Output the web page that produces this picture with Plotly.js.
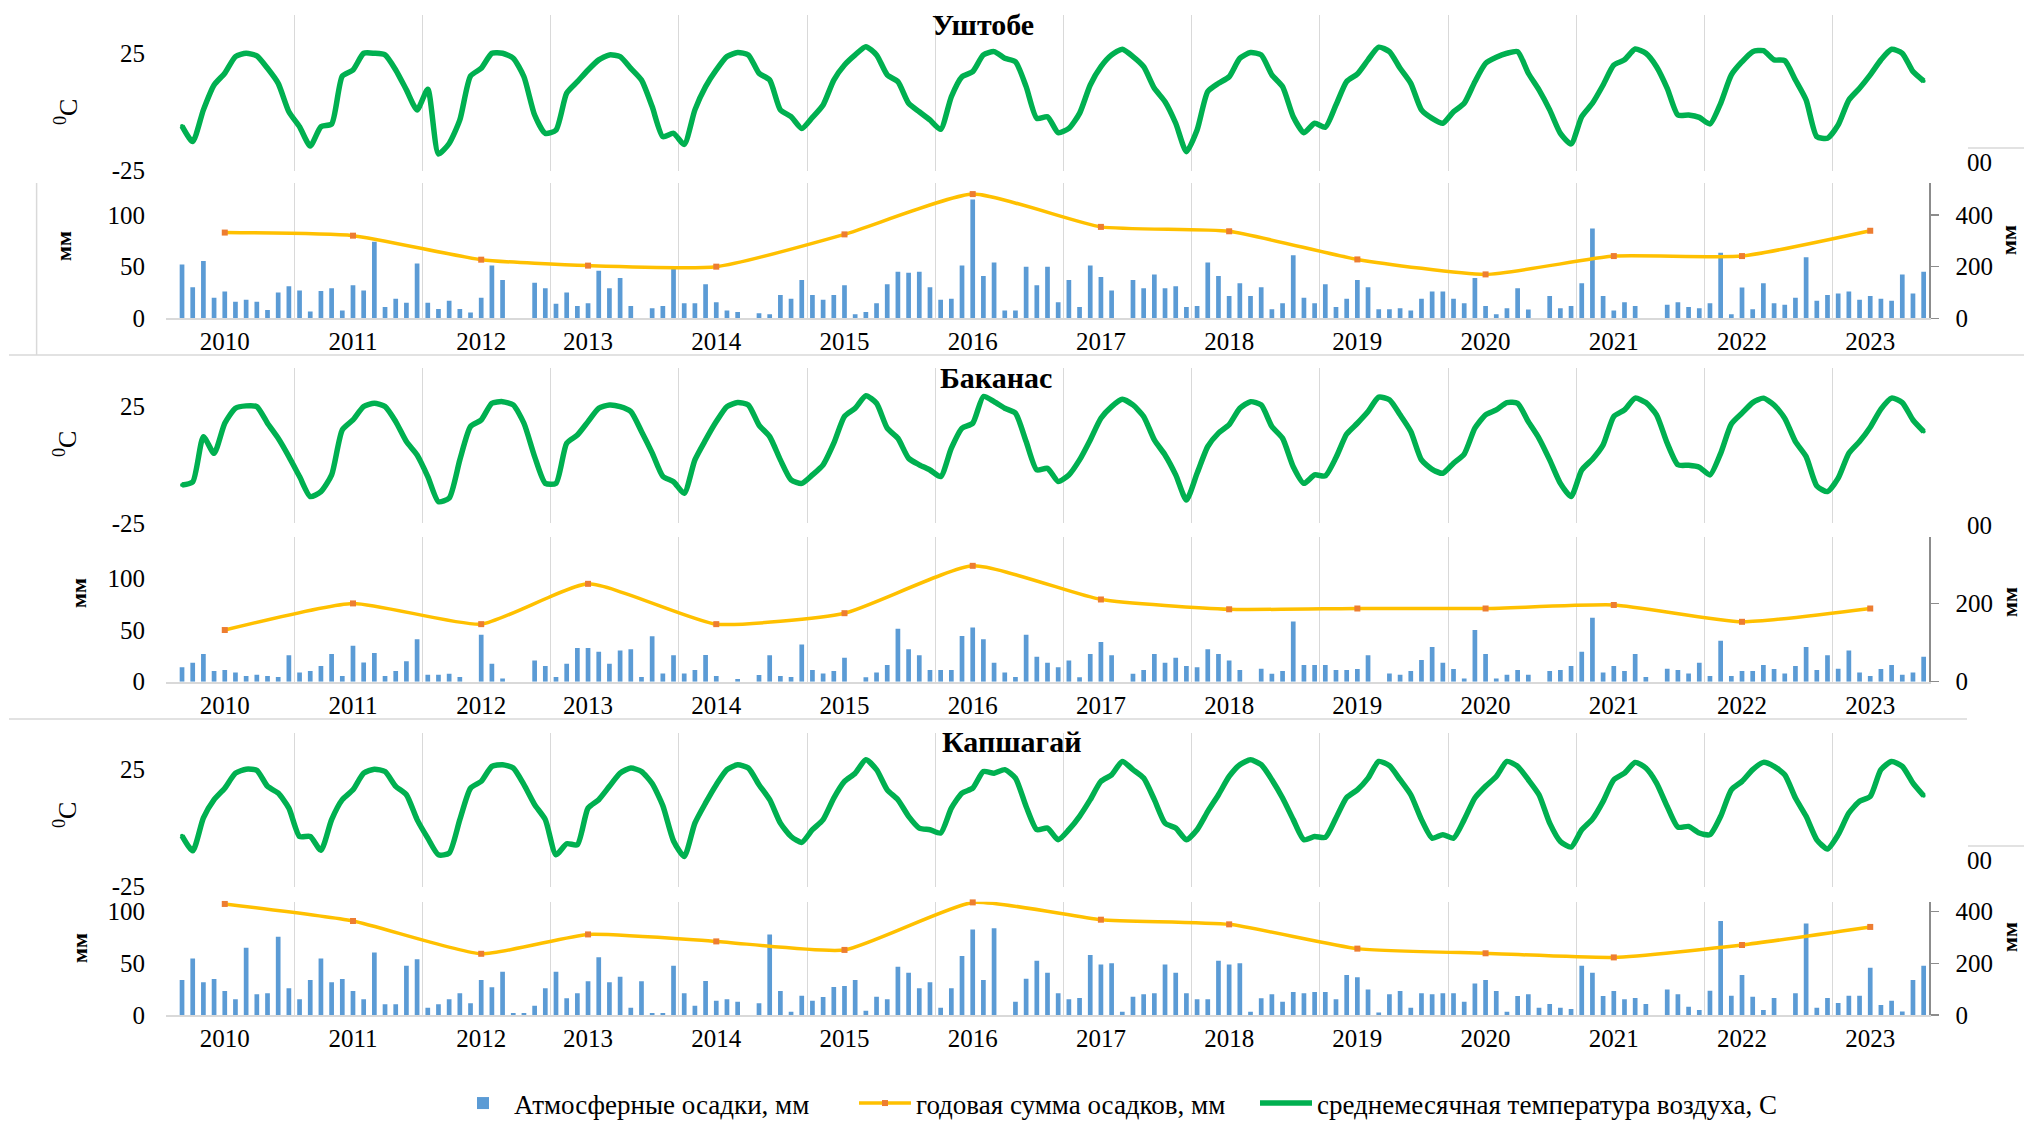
<!DOCTYPE html>
<html><head><meta charset="utf-8">
<script src="https://cdn.plot.ly/plotly-3.0.1.min.js"></script>
<style>html,body{margin:0;padding:0;background:#fff}#c{width:2024px;height:1128px}</style>
</head><body><div id="c"></div>
<script>
// ---- data ----
const years = ['2010','2011','2012','2013','2014','2015','2016','2017','2018','2019','2020','2021','2022','2023'];
const yearPos = [4,16,28,38,50,62,74,86,98,110,122,134,146,158];
const stations = ['Уштобе','Баканас','Капшагай'];
const tempTicks = [-25, 25];
const tempTickText = ['-25', '25'];
const precipTicks = [0, 50, 100];
const sumTicks = [0, 200, 400];
const seriesNames = ['Атмосферные осадки, мм','годовая сумма осадков, мм','среднемесячная температура воздуха, С'];

const precipUsh = [52,30,55.5,20,26,16,18,16,8,25,31,27,
 6.5,26.5,29,7.5,32,27,74,11,19,15,53,15,
 9,17,9,5.5,20,51,37,0,0,34.5,29,14,
 25,12,14.5,46,29,39,12,0,9.7,12,48,14.5,
 14.5,33,15.5,7.5,6,0,5,4,22.6,19,37,22.6,
 18,22.6,32,4,6,14.5,33,45,44,45,30,18,
 19,51,115,41,54,7.5,7.5,50,32,50,15.5,37,
 11,51,40,27,0,37,29,42.5,29,31,11,12,
 54,41,21.6,34,21.6,30,8.7,14.5,61,20,14.5,33,
 11,19,37,30,8.7,8.7,9.7,7.5,19,26,26,19,
 14.5,39,12,4,9.7,29,8.4,0,21.6,9.7,12,34,
 87,21.6,7.5,15.5,12,0,0,13,15.5,11,9.7,14.5,
 63.5,4,29.7,8.7,34,14.5,13,20,59,17,22.6,24,
 26,18,21.6,19,17,42.5,24,45];
const tempUsh = [-6,-12.6,0.9,11.5,16.5,23.6,25,23.9,18.6,12.2,0.1,-6.3,
 -14.5,-6.3,-5.1,15.3,17.9,25,25,24.3,17.9,9.4,0.9,9.7,
 -17.9,-13.4,-3.4,15.3,18.6,25,25,22.9,15,-1.3,-9.1,-7.7,
 8,12.9,17.9,22.2,24.3,23.6,18.6,13.6,2.3,-10.5,-9.1,-13.8,
 0.9,10.8,17.9,23.6,25.3,24.3,16.5,13.6,0.9,-2,-7,-2.3,
 3,13.6,20,24.3,27.8,24.3,15.8,12.9,3.7,0.1,-3.4,-7.4,
 6.5,15,17.2,24.3,25.7,22.9,21.4,10.8,-2.7,-2,-8.8,-7,
 -0.6,11.5,19.3,24.3,26.7,23.6,19.3,10.1,4.4,-4.8,-16.9,-7.7,
 8.7,12.2,15,22.9,25.3,24.3,15.8,10.8,-2,-8.8,-4.8,-6.5,
 3,13,16.2,22.2,27.6,25.7,18.6,12.2,0.9,-2.7,-4.8,0.1,
 3.7,12.9,20.7,23.3,25,25.7,16.5,9.4,0.9,-9.1,-13.6,-2,
 3.7,11.5,20,22.2,26.8,25,19.3,10.1,-1.3,-1.3,-2.3,-5.1,
 3.7,15.8,21.4,25.7,26.1,22.2,21.9,13.6,5.1,-10.5,-11.2,-5.5,
 5.1,10.1,15.8,22.2,26.7,25,17.2,13.2];
const sumUsh = [332,320,227,204,200,325,481,354,337,228,170,241,241,339];

const precipBak = [13.9,18.4,26.8,10.3,11.3,9,5.5,6.8,5.5,4.5,25.5,9,
 10.3,15.2,26.8,5.5,34.8,18.7,27.7,5.5,10.3,19.7,41,6.8,
 6.8,7.7,4.5,0,45.5,17.4,3.2,0,0,20.6,15.2,4.5,
 17.4,32.6,32.6,29,17.4,30.3,31.3,4.5,44,8,25.5,8,
 11.3,25.8,5.5,0,2.6,0,6.5,25.5,5.5,4.5,36,11.3,
 8,10.3,23.2,0,4.2,9,16.1,51.3,31.3,25.5,11.3,11.3,
 11.3,44.2,52.6,41,18.4,9,4.5,45.5,24.2,18.4,13.9,20.6,
 4.2,26.8,38.4,25.5,0,7.7,11.3,26.8,18.4,23.2,15.2,13.9,
 31.3,26.8,20.6,11.3,0,12.6,7.7,10.3,58.4,16.1,16.1,16.1,
 11.3,11.3,12.3,25.5,0,8,6.8,10.3,21,33.5,18.4,12.3,
 3.2,50,26.8,3.2,6.8,11.3,6.8,0,10.3,11.3,15.2,29,
 62,9,15.2,10.3,26.8,4.5,0,12.6,11.3,8,18.4,5.5,
 39.7,5.5,10.3,10.3,16.1,12.3,8,15.2,33.5,11.3,25.5,12.6,
 30.3,9,5.5,12.3,16.1,6.8,9,24.2];
const tempBak = [-8.7,-7.4,11.9,4.8,17.6,24,25,24.7,17.6,11.2,3.4,-5.1,
 -13.6,-11.5,-4.4,14.8,19,24.7,26.1,24.7,18.3,9.8,4.1,-5.1,
 -15.8,-14.3,2,16.2,19,26.1,26.8,25.4,17.6,3.4,-8,-8,
 9.1,12.6,18.3,24,25.4,24.7,22.6,14.1,5,-5,-7.3,-12.2,
 2,10.5,18.3,24.7,26.4,25.4,16.8,11.9,2,-6.5,-8,-4.4,
 -0.1,9.1,20.5,24,29.3,26.1,15.5,11.2,2.7,-0.1,-2.3,-5.1,
 7,15.5,17.6,29,26.8,24,21.9,9.8,-2.3,-1.6,-7.2,-4.4,
 2,10.5,19.7,24.7,27.8,25.4,20.5,10.5,4.1,-4.4,-15.1,-3.7,
 7.7,13.4,17,24,26.8,25.4,16.2,11.2,-0.9,-8,-4.4,-4.8,
 3,13,17.6,22.6,28.7,27.6,21.2,14.1,2,-2,-3.7,0.6,
 4.5,15.5,21.2,23.3,26.4,26.1,18.3,11.2,2,-8,-13.6,-2.3,
 2.3,8.4,20.5,23.3,28.3,26.4,21.2,9.1,-0.1,-0.3,-1.1,-4.4,
 4.8,17.3,21.9,26.4,28.3,25.4,19.7,9.8,3.4,-9.1,-11.5,-5.8,
 4.8,9.8,15.9,23.6,28.3,26.4,19,14.1];
const sumBak = [132,200,147,250,147,175,296,210,185,187,187,196,153,187];

const precipKap = [33.9,54.8,31.6,34.8,23.2,15.2,65.2,20,21,75.8,25.8,15.2,
 33.9,54.8,31.6,34.8,23.2,15.2,60.6,10.3,10.3,47.7,53.9,7.1,
 10.3,15.2,21,11.3,33.9,26.8,41.9,1.9,1.9,9,25.8,41.9,
 16.1,21,32.6,55.8,31.6,37.1,7.1,32.6,1.9,1.9,47.7,21,
 9,32.9,13.9,15.2,12.9,0,11.3,78,23.2,3.2,18.7,13.9,
 17.4,27.1,28.1,33.9,4.2,17.7,15.2,46.8,41,25.8,31.6,7.1,
 25.8,57.1,82.9,33.9,83.9,0,12.9,35.2,52.6,41,21,15.2,
 16.5,58.1,49,50,3.2,17.7,20,21,49,41,21,15.2,
 15.2,52.6,49,50,3.2,16.1,20,12.9,22.3,21,22.3,22.3,
 15.2,38.7,36.5,24.8,2.3,20,23.2,7.1,21,20,21,21,
 12.9,30.6,33.9,23.2,3.2,18.4,20,7.1,10.6,7.1,5.8,47.7,
 41,18.4,23.2,15.2,16.5,10.6,0,24.8,20,8.1,4.8,23.5,
 91,18.7,38.7,17.7,4.8,16.5,0,21,88.7,7.1,16.5,11.6,
 18.7,18.7,45.8,9.7,13.9,3.5,33.9,47.7];
const tempKap = [-3.3,-9.7,4.3,12.1,17,23.4,25.1,24.6,17.8,14.9,8.5,-3.6,
 -3.6,-9.5,3.6,12.1,16.3,23.4,25.1,24.1,17.8,14.2,3.6,-4.3,
 -11.4,-10.7,3.6,17,19.9,26.3,27,25.6,18.5,10,3.6,-11.4,
 -6.7,-7.1,8.5,12.1,17.8,23.4,25.6,24.1,19,9.5,-5.5,-12.1,
 2.1,10.7,18.5,24.9,27,25.6,18.5,12.1,2.1,-3.6,-6.1,-0.7,
 3.6,12.8,19.9,23.4,29.1,24.9,16.3,12.1,5,0,-0.7,-2.1,
 8.5,14.9,17,24.1,23.4,24.9,21.3,9.2,-0.7,0,-5,-0.7,
 5,12.1,19.9,22.7,28.4,24.9,21.3,12.1,2.1,0,-5,-0.7,
 7.1,14.2,22,27,29.1,27,20.6,12.8,3.6,-5,-3.6,-4,
 4.3,13,16.3,21.3,28.4,26.6,20.6,14.2,3.6,-4.3,-2.8,-4.3,
 3.6,12.8,17.8,22,28.4,26.3,20.6,14.2,2.1,-5.7,-8.1,-0.7,
 3.8,11.4,20.6,23.4,28,25.6,19.2,9.2,0.4,0.7,-2.1,-2.8,
 5,16.3,19.9,24.9,28,26.3,22.7,12.8,5,-5,-8.9,-2.8,
 6.4,11.4,13.5,24.9,28.4,26.3,19.2,13.8];
const sumKap = [430,364,237,312,285,252,436,369,351,257,239,223,271,341];

const precipAll = [precipUsh, precipBak, precipKap];
const tempAll = [tempUsh, tempBak, tempKap];
const sumAll = [sumUsh, sumBak, sumKap];
const monthIdx = precipUsh.map((_, i) => i);

// ---- layout geometry (paper fractions) ----
const W = 2024, H = 1128;
const py = v => 1 - v / H, px = v => v / W;
const FONT = 'Liberation Serif';
const xDom = [px(166), px(1929)];
const panels = [
  {tDom:[py(170.7), py(15)],  tTop:41.3, pDom:[py(318.3), py(183.3)], pTop:130.7, sTop:522.8},
  {tDom:[py(523.3), py(368.3)], tTop:41.0, pDom:[py(681.7), py(536.7)], pTop:140.4, sTop:370.4},
  {tDom:[py(886.7), py(733.3)], tTop:40.4, pDom:[py(1015), py(901.7)], pTop:109.7, sTop:438.7}
];

const legFont = {family:FONT, size:27, color:'#000'};
const legBase = {orientation:'h', xanchor:'left', yanchor:'bottom', xref:'paper', yref:'paper',
                 y:0, font:legFont, bgcolor:'rgba(0,0,0,0)', itemwidth:52, borderwidth:0};

const traces = [];
const layout = {
  width: W, height: H, margin:{l:0,r:0,t:0,b:0}, autosize:false,
  paper_bgcolor:'#fff', plot_bgcolor:'rgba(0,0,0,0)',
  font:{family:FONT, size:25, color:'#000'},
  showlegend:true,
  legend: Object.assign({}, legBase, {x:px(452)}),
  legend2: Object.assign({}, legBase, {x:px(854)}),
  legend3: Object.assign({}, legBase, {x:px(1255)}),
  annotations:[], shapes:[]
};

const tickFont = {family:FONT, size:25, color:'#000'};

stations.forEach((name, s) => {
  const P = panels[s];
  const xn = s === 0 ? '' : String(s + 1);
  const yL = 3*s + 1, yR = 3*s + 2, yT = 3*s + 3;
  const yn = n => n === 1 ? '' : String(n);
  const xa = 'x' + xn;
  layout['xaxis' + xn] = {
    domain:xDom, range:[-1.5,163.5], anchor:'y' + yn(yL),
    tickmode:'array', tickvals:yearPos, ticktext:years, tickfont:tickFont,
    showgrid:false, zeroline:false, showline:true, linecolor:'#d9d9d9', linewidth:2,
    ticks:'', ticklabelstandoff:0, fixedrange:true,
    minor:{tickmode:'linear', tick0:-1.5, dtick:12, showgrid:true, gridcolor:'#d9d9d9', gridwidth:1, ticks:''}
  };
  layout['yaxis' + yn(yL)] = {
    domain:P.pDom, range:[0,P.pTop], anchor:xa, tickmode:'array', tickvals:precipTicks,
    tickfont:tickFont, showgrid:false, zeroline:false, showline:false, ticks:'',
    ticklabelstandoff:20, fixedrange:true
  };
  layout['yaxis' + yn(yR)] = {
    overlaying:'y' + yn(yL), side:'right', anchor:xa, range:[0,P.sTop],
    tickmode:'array', tickvals:sumTicks, tickfont:tickFont, showgrid:false, zeroline:false,
    showline:true, linecolor:'#8c8c8c', linewidth:1.5, ticks:'outside', ticklen:8,
    tickcolor:'#8c8c8c', tickwidth:1.5, ticklabelstandoff:12, fixedrange:true
  };
  layout['yaxis' + yn(yT)] = {
    domain:P.tDom, range:[-25,P.tTop], anchor:xa, tickmode:'array', tickvals:tempTicks,
    ticktext:tempTickText,
    tickfont:tickFont, showgrid:false, zeroline:false, showline:false, ticks:'',
    ticklabelstandoff:20, fixedrange:true
  };

  traces.push({
    type:'bar', x:monthIdx, y:precipAll[s], xaxis:xa, yaxis:'y' + yn(yL),
    marker:{color:'#5B9BD5', line:{width:0}}, width:0.44,
    name:seriesNames[0], legend:'legend', showlegend:s === 0, hoverinfo:'skip'
  });
  traces.push({
    type:'scatter', mode:'lines+markers', x:yearPos, y:sumAll[s], xaxis:xa, yaxis:'y' + yn(yR),
    line:{color:'#FFC000', width:3.5, shape:'spline', smoothing:0.5},
    marker:{symbol:'square', size:6, color:'#ED7D31'}, cliponaxis:false,
    name:seriesNames[1], legend:'legend2', showlegend:s === 0, hoverinfo:'skip'
  });
  traces.push({
    type:'scatter', mode:'lines+markers', x:monthIdx, y:tempAll[s], xaxis:xa, yaxis:'y' + yn(yT),
    line:{color:'#00B050', width:5.5, shape:'spline', smoothing:0.6},
    marker:{symbol:'circle', size:4, color:'#00B050'}, cliponaxis:false,
    name:seriesNames[2], legend:'legend3', showlegend:s === 0, hoverinfo:'skip'
  });
});

// titles and axis titles
const titlePos = [[983,24],[996,377],[1011,741]];
const degPos = [[66,112],[66,444],[66,815]];
const mmL = [[63,246],[78,593],[79,948]];
const mmR = [[2009,240],[2009,602],[2009,937]];
const zz = [163,525,860];
stations.forEach((name, s) => {
  layout.annotations.push({text:'<b>' + name + '</b>', xref:'paper', yref:'paper',
    x:px(titlePos[s][0]), y:py(titlePos[s][1]), showarrow:false, xanchor:'center', yanchor:'middle',
    font:{family:FONT, size:30, color:'#000'}});
  layout.annotations.push({text:'<sup>0</sup>C', xref:'paper', yref:'paper', textangle:-90,
    x:px(degPos[s][0]), y:py(degPos[s][1]), showarrow:false, xanchor:'center', yanchor:'middle',
    font:{family:FONT, size:26, color:'#000'}});
  layout.annotations.push({text:'<b>мм</b>', xref:'paper', yref:'paper', textangle:-90,
    x:px(mmL[s][0]), y:py(mmL[s][1]), showarrow:false, xanchor:'center', yanchor:'middle',
    font:{family:FONT, size:22, color:'#000'}});
  layout.annotations.push({text:'<b>мм</b>', xref:'paper', yref:'paper', textangle:-90,
    x:px(mmR[s][0]), y:py(mmR[s][1]), showarrow:false, xanchor:'center', yanchor:'middle',
    font:{family:FONT, size:22, color:'#000'}});
  layout.annotations.push({text:'00', xref:'paper', yref:'paper',
    x:px(1965), y:py(zz[s]), showarrow:false, xanchor:'left', yanchor:'middle',
    font:{family:FONT, size:25, color:'#000'}});
});

// chart-area borders of the original composite
const bc = '#d9d9d9';
const seg = (x0,y0,x1,y1) => ({type:'line', xref:'paper', yref:'paper', x0:px(x0), y0:py(y0), x1:px(x1), y1:py(y1), line:{color:bc, width:1.5}});
layout.shapes.push(seg(9,355,2024,355), seg(36.6,183,36.6,355), seg(1968,148,2024,148),
                   seg(9,719,1967,719), seg(1968,846,2024,846));

Plotly.newPlot('c', traces, layout, {displayModeBar:false, staticPlot:true});
</script></body></html>
